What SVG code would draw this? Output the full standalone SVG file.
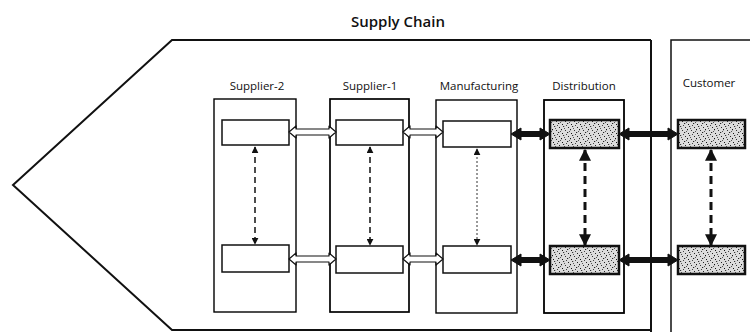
<svg xmlns="http://www.w3.org/2000/svg" width="750" height="332" viewBox="0 0 750 332">
<style>
.lbl{font-family:"Open Sans","Liberation Sans",sans-serif;font-size:11.5px;fill:#111;text-anchor:middle}
.title{font-family:"Open Sans","Liberation Sans",sans-serif;font-size:15px;font-weight:600;fill:#111;text-anchor:middle}
.col{fill:none;stroke:#000;stroke-width:1.4}
.inner{fill:#fff;stroke:#111;stroke-width:1.5}
.stip{fill:url(#dots);stroke:#111;stroke-width:2.5}
.hollow{fill:#fff;stroke:#111;stroke-width:1.2;stroke-linejoin:round}
.solid{fill:#111;stroke:#111;stroke-width:1}
.vd{stroke:#111;stroke-width:1.5;stroke-dasharray:6 4;fill:none}
.vdot{stroke:#333;stroke-width:1;stroke-dasharray:2 2;fill:none}
.vthick{stroke:#111;stroke-width:3;stroke-dasharray:8 5;fill:none}
</style>
<defs>
<pattern id="dots" width="9" height="9" patternUnits="userSpaceOnUse">
<rect width="9" height="9" fill="#dcdcdc"/>
<rect x="1" y="1" width="1" height="1" fill="#222"/>
<rect x="5" y="0" width="1.2" height="1" fill="#333"/>
<rect x="3" y="3" width="1" height="1.2" fill="#111"/>
<rect x="7" y="4" width="1" height="1" fill="#333"/>
<rect x="0" y="6" width="1.2" height="1" fill="#222"/>
<rect x="4" y="7" width="1" height="1" fill="#111"/>
<rect x="8" y="8" width="1" height="1" fill="#444"/>
<rect x="2" y="5" width="1" height="1" fill="#555"/>
<rect x="6" y="2" width="1" height="1" fill="#555"/>
</pattern>
<marker id="ah" viewBox="0 0 10 10" refX="9" refY="5" markerWidth="7" markerHeight="7" markerUnits="userSpaceOnUse" orient="auto-start-reverse">
<path d="M0,0 L10,5 L0,10 Z" fill="#111"/>
</marker>
<marker id="ahb" viewBox="0 0 10 10" refX="9" refY="5" markerWidth="12" markerHeight="12" markerUnits="userSpaceOnUse" orient="auto-start-reverse">
<path d="M0,0 L10,5 L0,10 Z" fill="#111"/>
</marker>
</defs>

<g id="supply-chain">
<path d="M651,40 L172,40 L13,185 L172,330 L651,330" fill="none" stroke="#111" stroke-width="2"/>
<line x1="651" y1="40" x2="651" y2="332" stroke="#111" stroke-width="2"/>
<text class="title" x="398" y="27">Supply Chain</text>
</g>
<g id="customer-area">
<path d="M750,40 L671,40 L671,332" fill="none" stroke="#111" stroke-width="1.5"/>
</g>

<g id="supplier-2">
<text class="lbl" x="257" y="90">Supplier-2</text>
<rect class="col" x="214" y="99" width="82" height="213"/>
<rect class="inner" x="222" y="120" width="67" height="25"/>
<rect class="inner" x="222" y="245" width="67" height="27"/>
</g>
<g id="supplier-1">
<text class="lbl" x="370" y="90">Supplier-1</text>
<rect class="col" x="330" y="99" width="79" height="213" style="stroke-width:1.7"/>
<rect class="inner" x="336" y="120" width="67" height="25"/>
<rect class="inner" x="336" y="246" width="67" height="27"/>
</g>
<g id="manufacturing">
<text class="lbl" x="479" y="90">Manufacturing</text>
<rect class="col" x="436" y="100" width="81" height="213"/>
<rect class="inner" x="443" y="121" width="68" height="26"/>
<rect class="inner" x="443" y="246" width="68" height="27"/>
</g>
<g id="distribution">
<text class="lbl" x="584" y="90">Distribution</text>
<rect class="col" x="544" y="100" width="80" height="213" style="stroke-width:1.8"/>
<rect class="stip" x="550" y="120" width="69" height="28"/>
<rect class="stip" x="550" y="246" width="69" height="28"/>
</g>
<g id="customer">
<text class="lbl" x="709" y="87">Customer</text>
<rect class="stip" x="678" y="120" width="67" height="28"/>
<rect class="stip" x="678" y="246" width="67" height="28"/>
</g>

<g id="connectors">
<polygon class="hollow" points="289,132 296,126 296,129 329,129 329,126 336,132 329,138 329,135 296,135 296,138"/>
<polygon class="hollow" points="289,259 296,253 296,256 329,256 329,253 336,259 329,265 329,262 296,262 296,265"/>
<polygon class="hollow" points="403,132 410,126 410,129 436,129 436,126 443,132 436,138 436,135 410,135 410,138"/>
<polygon class="hollow" points="403,259 410,253 410,256 436,256 436,253 443,259 436,265 436,262 410,262 410,265"/>
<polygon class="solid" points="511,134 521,128 521,131.5 540,131.5 540,128 550,134 540,140 540,136.5 521,136.5 521,140"/>
<polygon class="solid" points="511,260 521,254 521,257.5 540,257.5 540,254 550,260 540,266 540,262.5 521,262.5 521,266"/>
<polygon class="solid" points="619,134 629,128 629,131.5 668,131.5 668,128 678,134 668,140 668,136.5 629,136.5 629,140"/>
<polygon class="solid" points="619,260 629,254 629,257.5 668,257.5 668,254 678,260 668,266 668,262.5 629,262.5 629,266"/>
<line class="vd" x1="255" y1="147" x2="255" y2="244" marker-start="url(#ah)" marker-end="url(#ah)"/>
<line class="vd" x1="370" y1="147" x2="370" y2="245" marker-start="url(#ah)" marker-end="url(#ah)"/>
<line class="vdot" x1="477" y1="149" x2="477" y2="245" marker-start="url(#ah)" marker-end="url(#ah)"/>
<line class="vthick" x1="585" y1="150" x2="585" y2="245" marker-start="url(#ahb)" marker-end="url(#ahb)"/>
<line class="vthick" x1="711" y1="150" x2="711" y2="245" marker-start="url(#ahb)" marker-end="url(#ahb)"/>
</g>
</svg>
